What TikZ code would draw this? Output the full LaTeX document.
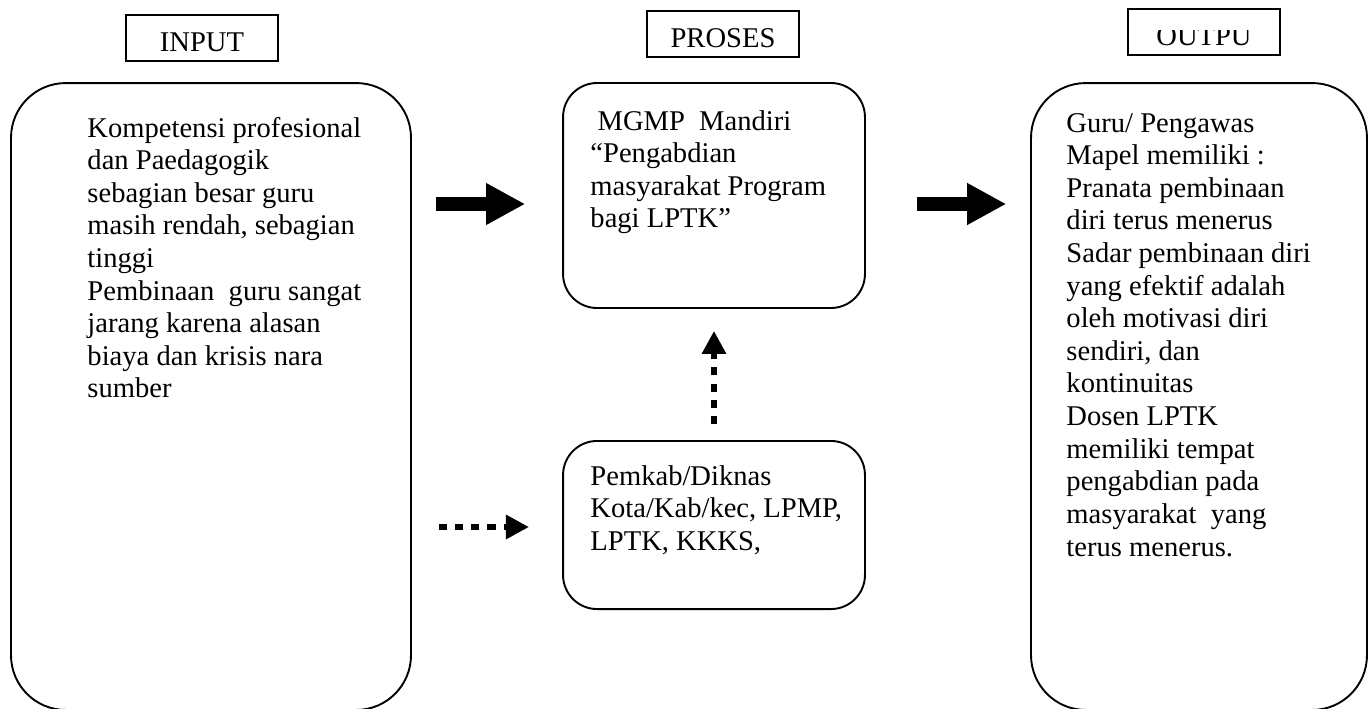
\documentclass[tikz,border=0pt]{standalone}
\usepackage{fontspec}
\setmainfont{Liberation Serif}
\usetikzlibrary{positioning, calc, arrows.meta}
\tikzset{bigbox/.style={draw, line width=0.8pt, rounded corners=23pt, inner sep=0pt}}
\tikzset{headbox/.style={draw, line width=0.9pt, inner sep=0pt, minimum width=64pt, text height=15pt, text depth=4.3pt}}
\tikzset{boxtext/.style={anchor=base west, inner sep=0pt}}
\tikzset{blockarrow/.style={line width=5.9pt, -{Triangle[length=16.4pt, width=16.4pt]}}}
\tikzset{dotarrow/.style={line width=2.9pt, dash pattern=on 3.4pt off 3.4pt, -{Triangle[length=9.7pt, width=9.7pt]}}}

\begin{document}
\begin{tikzpicture}[x=0.42pt, y=-0.42pt, font=\fontsize{12}{13.7}\selectfont]
      \useasboundingbox (0,0) rectangle (1370,708);

      \node[headbox, anchor=base] (inhd) at (202,51) {INPUT};
      \node[headbox, anchor=base] (prhd) at (723,47) {PROSES};
      \node[headbox, anchor=base] (outhd) at (1204,45) {};
      \begin{scope}
        \clip (1130,30) rectangle (1280,56);
        \node[anchor=base, inner sep=0pt] (outtx) at (outhd.base) {OUTPU};
      \end{scope}

      \node[bigbox, minimum width=168pt, minimum height=263.3pt] (inbox) at (211,396.5) {};
      \node[bigbox, rounded corners=14.3pt, minimum width=126.8pt, minimum height=94.5pt] (mgmp) at (714,195.5) {};
      \node[bigbox, rounded corners=14.3pt, minimum width=126.8pt, minimum height=70.6pt] (pemkab) at (714,525) {};
      \node[bigbox, minimum width=141.1pt, minimum height=263.3pt] (outbox) at (1199,396.5) {};

      \node[boxtext] (intx) at (87,137) {
        \begin{tabular}[t]{@{}l@{}}
          Kompetensi profesional \\
          dan Paedagogik \\
          sebagian besar guru \\
          masih rendah, sebagian \\
          tinggi \\
          Pembinaan\ \ guru sangat \\
          jarang karena alasan \\
          biaya dan krisis nara \\
          sumber \\
        \end{tabular}
      };
      \node[boxtext] (mgmptx) at (590,130) {
        \begin{tabular}[t]{@{}l@{}}
          \ MGMP\ \ Mandiri \\
          “Pengabdian \\
          masyarakat Program \\
          bagi LPTK” \\
        \end{tabular}
      };
      \node[boxtext] (pemkabtx) at (590,485) {
        \begin{tabular}[t]{@{}l@{}}
          Pemkab/Diknas \\
          Kota/Kab/kec, LPMP, \\
          LPTK, KKKS, \\
        \end{tabular}
      };
      \node[boxtext] (outtx) at (1066,132) {
        \begin{tabular}[t]{@{}l@{}}
          Guru/ Pengawas \\
          Mapel memiliki : \\
          Pranata pembinaan \\
          diri terus menerus \\
          Sadar pembinaan diri \\
          yang efektif adalah \\
          oleh motivasi diri \\
          sendiri, dan \\
          kontinuitas \\
          Dosen LPTK \\
          memiliki tempat \\
          pengabdian pada \\
          masyarakat\ \ yang \\
          terus menerus. \\
        \end{tabular}
      };

      \coordinate (a1) at (0,204);
      \coordinate (a4) at (0,527);
      \draw[blockarrow, shorten <=10pt, shorten >=15.5pt] (inbox.east |- a1) -- (mgmp.west |- a1);
      \draw[blockarrow, shorten <=21.4pt, shorten >=10pt] (mgmp.east |- a1) -- (outbox.west |- a1);
      \draw[dotarrow, shorten <=6.7pt, shorten >=9.2pt] (pemkab.north) -- (mgmp.south);
      \draw[dotarrow, shorten <=11.3pt, shorten >=13.9pt] (inbox.east |- a4) -- (pemkab.west |- a4);

    \end{tikzpicture}
\end{document}
